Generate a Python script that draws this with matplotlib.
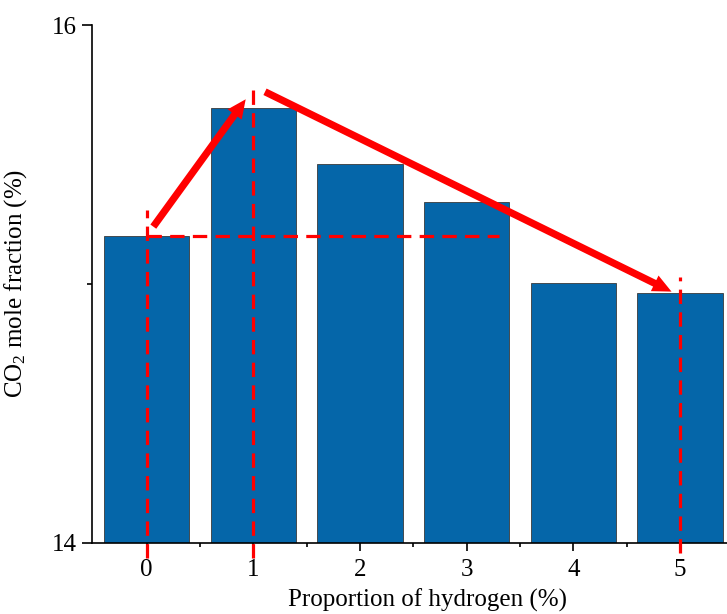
import matplotlib
matplotlib.use("Agg")
import matplotlib.pyplot as plt
from matplotlib.patches import FancyArrowPatch
from matplotlib.ticker import FixedLocator

# Data
proportions = [0, 1, 2, 3, 4, 5]
co2_fraction = [15.186, 15.680, 15.462, 15.315, 15.004, 14.963]
tick_labels = ["0", "1", "2", "3", "4", "5"]

# Annotation guide values
ref_level = 15.186          # horizontal dashed reference (bar 0)
ref_x_end = 3.3
vlines = [(0, 13.94, 15.285), (1, 13.94, 15.765), (5, 13.96, 15.025)]
arrows = [((0.062, 15.221), (0.928, 15.713)),
          ((1.109, 15.742), (4.92, 14.97))]

plt.rcParams['font.family'] = ['Liberation Serif', 'DejaVu Serif']
plt.rcParams['mathtext.fontset'] = 'custom'
plt.rcParams['mathtext.rm'] = 'Liberation Serif'
plt.rcParams['mathtext.it'] = 'Liberation Serif:italic'

fig = plt.figure(figsize=(7.27, 6.14), dpi=100)
ax = fig.add_axes([92.3/727, (614-542.7)/614, (727-92.3)/727, (542.7-25)/614])

ax.bar(proportions, co2_fraction, width=0.8, bottom=0,
       color='#0566A9', edgecolor='#3a3a3a', linewidth=0.6, zorder=2)

ax.set_ylim(14, 16)
ax.set_xlim(-0.51, 5.44)

# dashed guides
ax.plot([0, ref_x_end], [ref_level, ref_level], color='red', lw=2.3,
        dashes=(4.5, 2.6), zorder=3)
for x, y0, y1 in vlines:
    ax.plot([x, x], [y0, y1], color='red', lw=2.3, dashes=(4.5, 2.6),
            zorder=3, clip_on=False)

# arrows
for (x0, y0), (x1, y1) in arrows:
    arr = FancyArrowPatch((x0, y0), (x1, y1),
                          arrowstyle='simple,head_width=1.25,head_length=1.35,tail_width=0.52',
                          mutation_scale=10, color='red', lw=0, zorder=4,
                          shrinkA=0, shrinkB=0)
    ax.add_patch(arr)

# spines
ax.spines['top'].set_visible(False)
ax.spines['right'].set_visible(False)
for s in ['left', 'bottom']:
    ax.spines[s].set_linewidth(1.2)

ax.set_xticks(proportions)
ax.set_xticklabels(tick_labels)
ax.xaxis.set_minor_locator(FixedLocator([0.5, 1.5, 2.5, 3.5, 4.5]))
ax.set_yticks([14, 16])
ax.set_yticklabels(["14", "16"])
ax.yaxis.set_minor_locator(FixedLocator([15]))

ax.tick_params(axis='x', which='major', direction='out', length=6, width=1.2,
               labelsize=18, pad=6)
ax.tick_params(axis='x', which='minor', direction='out', length=3, width=1.2)
ax.tick_params(axis='y', which='major', direction='out', length=7, width=1.2,
               labelsize=18, pad=4)
ax.tick_params(axis='y', which='minor', direction='out', length=3.4, width=1.2)

ax.set_xlabel('Proportion of hydrogen (%)', fontsize=18)
ax.xaxis.set_label_coords((428-92.3)/(727-92.3), -0.088)
ax.set_ylabel(r'CO$_2$ mole fraction (%)', fontsize=18)
ax.yaxis.set_label_coords(-0.1, 0.5)

fig.savefig('out.png', dpi=100)
